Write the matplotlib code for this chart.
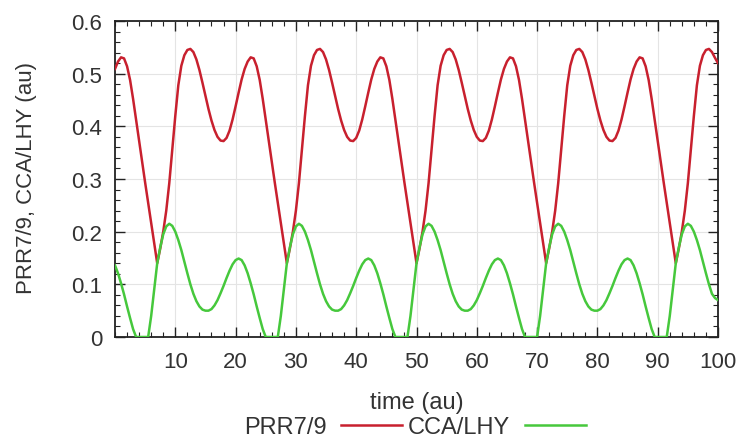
import numpy as np
import matplotlib
matplotlib.use("Agg")
import matplotlib.pyplot as plt
from matplotlib.lines import Line2D
from matplotlib.ticker import MultipleLocator

plt.rcParams['font.family'] = ['Liberation Sans', 'DejaVu Sans']

# sample times (au), every 0.5
time = np.linspace(0, 100, 201)

# PRR7/9 values
prr79 = [
    0.509, 0.523, 0.531, 0.529, 0.514, 0.488, 0.452, 0.412, 0.371, 0.331, 0.293, 0.255, 0.218, 0.180,
    # x = 7.0 .. 28.0
    0.140, 0.168, 0.200, 0.240, 0.292, 0.355, 0.420, 0.478, 0.515, 0.535, 0.545, 0.547, 0.541, 0.527,
    0.507, 0.483, 0.458, 0.433, 0.411, 0.393, 0.380, 0.373, 0.372, 0.378, 0.392, 0.413, 0.438, 0.464,
    0.489, 0.509, 0.523, 0.531, 0.529, 0.514, 0.488, 0.452, 0.412, 0.371, 0.331, 0.293, 0.255, 0.218,
    0.180,
    # x = 28.5 .. 49.5
    0.140, 0.168, 0.200, 0.240, 0.292, 0.355, 0.420, 0.478, 0.515, 0.535, 0.545, 0.547, 0.541, 0.527,
    0.507, 0.483, 0.458, 0.433, 0.411, 0.393, 0.380, 0.373, 0.372, 0.378, 0.392, 0.413, 0.438, 0.464,
    0.489, 0.509, 0.523, 0.531, 0.529, 0.514, 0.488, 0.452, 0.412, 0.371, 0.331, 0.293, 0.255, 0.218,
    0.180,
    # x = 50.0 .. 71.0
    0.140, 0.168, 0.200, 0.240, 0.292, 0.355, 0.420, 0.478, 0.515, 0.535, 0.545, 0.547, 0.541, 0.527,
    0.507, 0.483, 0.458, 0.433, 0.411, 0.393, 0.380, 0.373, 0.372, 0.378, 0.392, 0.413, 0.438, 0.464,
    0.489, 0.509, 0.523, 0.531, 0.529, 0.514, 0.488, 0.452, 0.412, 0.371, 0.331, 0.293, 0.255, 0.218,
    0.180,
    # x = 71.5 .. 92.5
    0.140, 0.168, 0.200, 0.240, 0.292, 0.355, 0.420, 0.478, 0.515, 0.535, 0.545, 0.547, 0.541, 0.527,
    0.507, 0.483, 0.458, 0.433, 0.411, 0.393, 0.380, 0.373, 0.372, 0.378, 0.392, 0.413, 0.438, 0.464,
    0.489, 0.509, 0.523, 0.531, 0.529, 0.514, 0.488, 0.452, 0.412, 0.371, 0.331, 0.293, 0.255, 0.218,
    0.180,
    # x = 93.0 .. 100.0
    0.140, 0.168, 0.200, 0.240, 0.292, 0.355, 0.420, 0.478, 0.515, 0.535, 0.545, 0.547, 0.541, 0.530,
    0.520,
]

# CCA/LHY values
cca_lhy = [
    0.136, 0.121, 0.102, 0.081, 0.058, 0.036, 0.015, 0.000, 0.000, 0.000, 0.000, 0.000, 0.040, 0.090,
    # x = 7.0 .. 28.0
    0.140, 0.170, 0.195, 0.210, 0.215, 0.211, 0.200, 0.184, 0.165, 0.143, 0.121, 0.100, 0.082, 0.068,
    0.058, 0.052, 0.050, 0.050, 0.053, 0.060, 0.070, 0.083, 0.097, 0.112, 0.126, 0.138, 0.146, 0.149,
    0.146, 0.136, 0.121, 0.102, 0.081, 0.058, 0.036, 0.015, 0.000, 0.000, 0.000, 0.000, 0.000, 0.040,
    0.090,
    # x = 28.5 .. 49.5
    0.140, 0.170, 0.195, 0.210, 0.215, 0.211, 0.200, 0.184, 0.165, 0.143, 0.121, 0.100, 0.082, 0.068,
    0.058, 0.052, 0.050, 0.050, 0.053, 0.060, 0.070, 0.083, 0.097, 0.112, 0.126, 0.138, 0.146, 0.149,
    0.146, 0.136, 0.121, 0.102, 0.081, 0.058, 0.036, 0.015, 0.000, 0.000, 0.000, 0.000, 0.000, 0.040,
    0.090,
    # x = 50.0 .. 71.0
    0.140, 0.170, 0.195, 0.210, 0.215, 0.211, 0.200, 0.184, 0.165, 0.143, 0.121, 0.100, 0.082, 0.068,
    0.058, 0.052, 0.050, 0.050, 0.053, 0.060, 0.070, 0.083, 0.097, 0.112, 0.126, 0.138, 0.146, 0.149,
    0.146, 0.136, 0.121, 0.102, 0.081, 0.058, 0.036, 0.015, 0.000, 0.000, 0.000, 0.000, 0.000, 0.040,
    0.090,
    # x = 71.5 .. 92.5
    0.140, 0.170, 0.195, 0.210, 0.215, 0.211, 0.200, 0.184, 0.165, 0.143, 0.121, 0.100, 0.082, 0.068,
    0.058, 0.052, 0.050, 0.050, 0.053, 0.060, 0.070, 0.083, 0.097, 0.112, 0.126, 0.138, 0.146, 0.149,
    0.146, 0.136, 0.121, 0.102, 0.081, 0.058, 0.036, 0.015, 0.000, 0.000, 0.000, 0.000, 0.000, 0.040,
    0.090,
    # x = 93.0 .. 100.0
    0.140, 0.170, 0.195, 0.210, 0.215, 0.211, 0.200, 0.184, 0.165, 0.143, 0.121, 0.100, 0.082, 0.074,
    0.070,
]

x_ticks = [10, 20, 30, 40, 50, 60, 70, 80, 90, 100]
y_ticks = [0, 0.1, 0.2, 0.3, 0.4, 0.5, 0.6]
y_tick_labels = ['0', '0.1', '0.2', '0.3', '0.4', '0.5', '0.6']

RED = '#c8202e'
GREEN = '#46c83c'

fig = plt.figure(figsize=(7.46, 4.39), dpi=100)
ax = fig.add_axes([115/746, 1-338/439, (718-115)/746, (338-22)/439])

ax.plot(time, prr79, color=RED, lw=1.8, label='PRR7/9', zorder=3)
ax.plot(time, cca_lhy, color=GREEN, lw=1.8, label='CCA/LHY', zorder=3)

ax.set_xlim(0, 100)
ax.set_ylim(0, 0.6)
ax.set_xticks(x_ticks)
ax.set_yticks(y_ticks)
ax.set_yticklabels(y_tick_labels)
ax.xaxis.set_minor_locator(MultipleLocator(2))
ax.yaxis.set_minor_locator(MultipleLocator(0.02))
ax.tick_params(which='both', direction='in', top=True, right=True, colors='#222222',
               labelcolor='#333333', labelsize=16)
ax.tick_params(which='major', length=7, width=1.0)
ax.tick_params(which='minor', length=3.5, width=0.8)
ax.tick_params(axis='x', which='major', pad=10)
ax.tick_params(axis='y', which='major', pad=9)
ax.grid(True, which='major', color='#e4e4e4', lw=0.8, zorder=0)
for s in ax.spines.values():
    s.set_color('#222222')
    s.set_linewidth(1.3)

ax.set_xlabel('time (au)', fontsize=17, color='#333333')
ax.xaxis.set_label_coords(0.5, -0.172)
ax.set_ylabel('PRR7/9, CCA/LHY (au)', fontsize=16, color='#333333')
ax.yaxis.set_label_coords(-0.13, 0.505)

handles = [Line2D([], [], color=RED, lw=1.8), Line2D([], [], color=GREEN, lw=1.8)]
fig.legend(handles, ['PRR7/9', 'CCA/LHY'], loc='center', bbox_to_anchor=(415/746, 1-428/439),
           ncol=2, markerfirst=False, frameon=False, fontsize=17, handlelength=2.6,
           handletextpad=0.6, columnspacing=0.25, labelcolor='#333333', borderpad=0)

fig.savefig('out.png', dpi=100)
